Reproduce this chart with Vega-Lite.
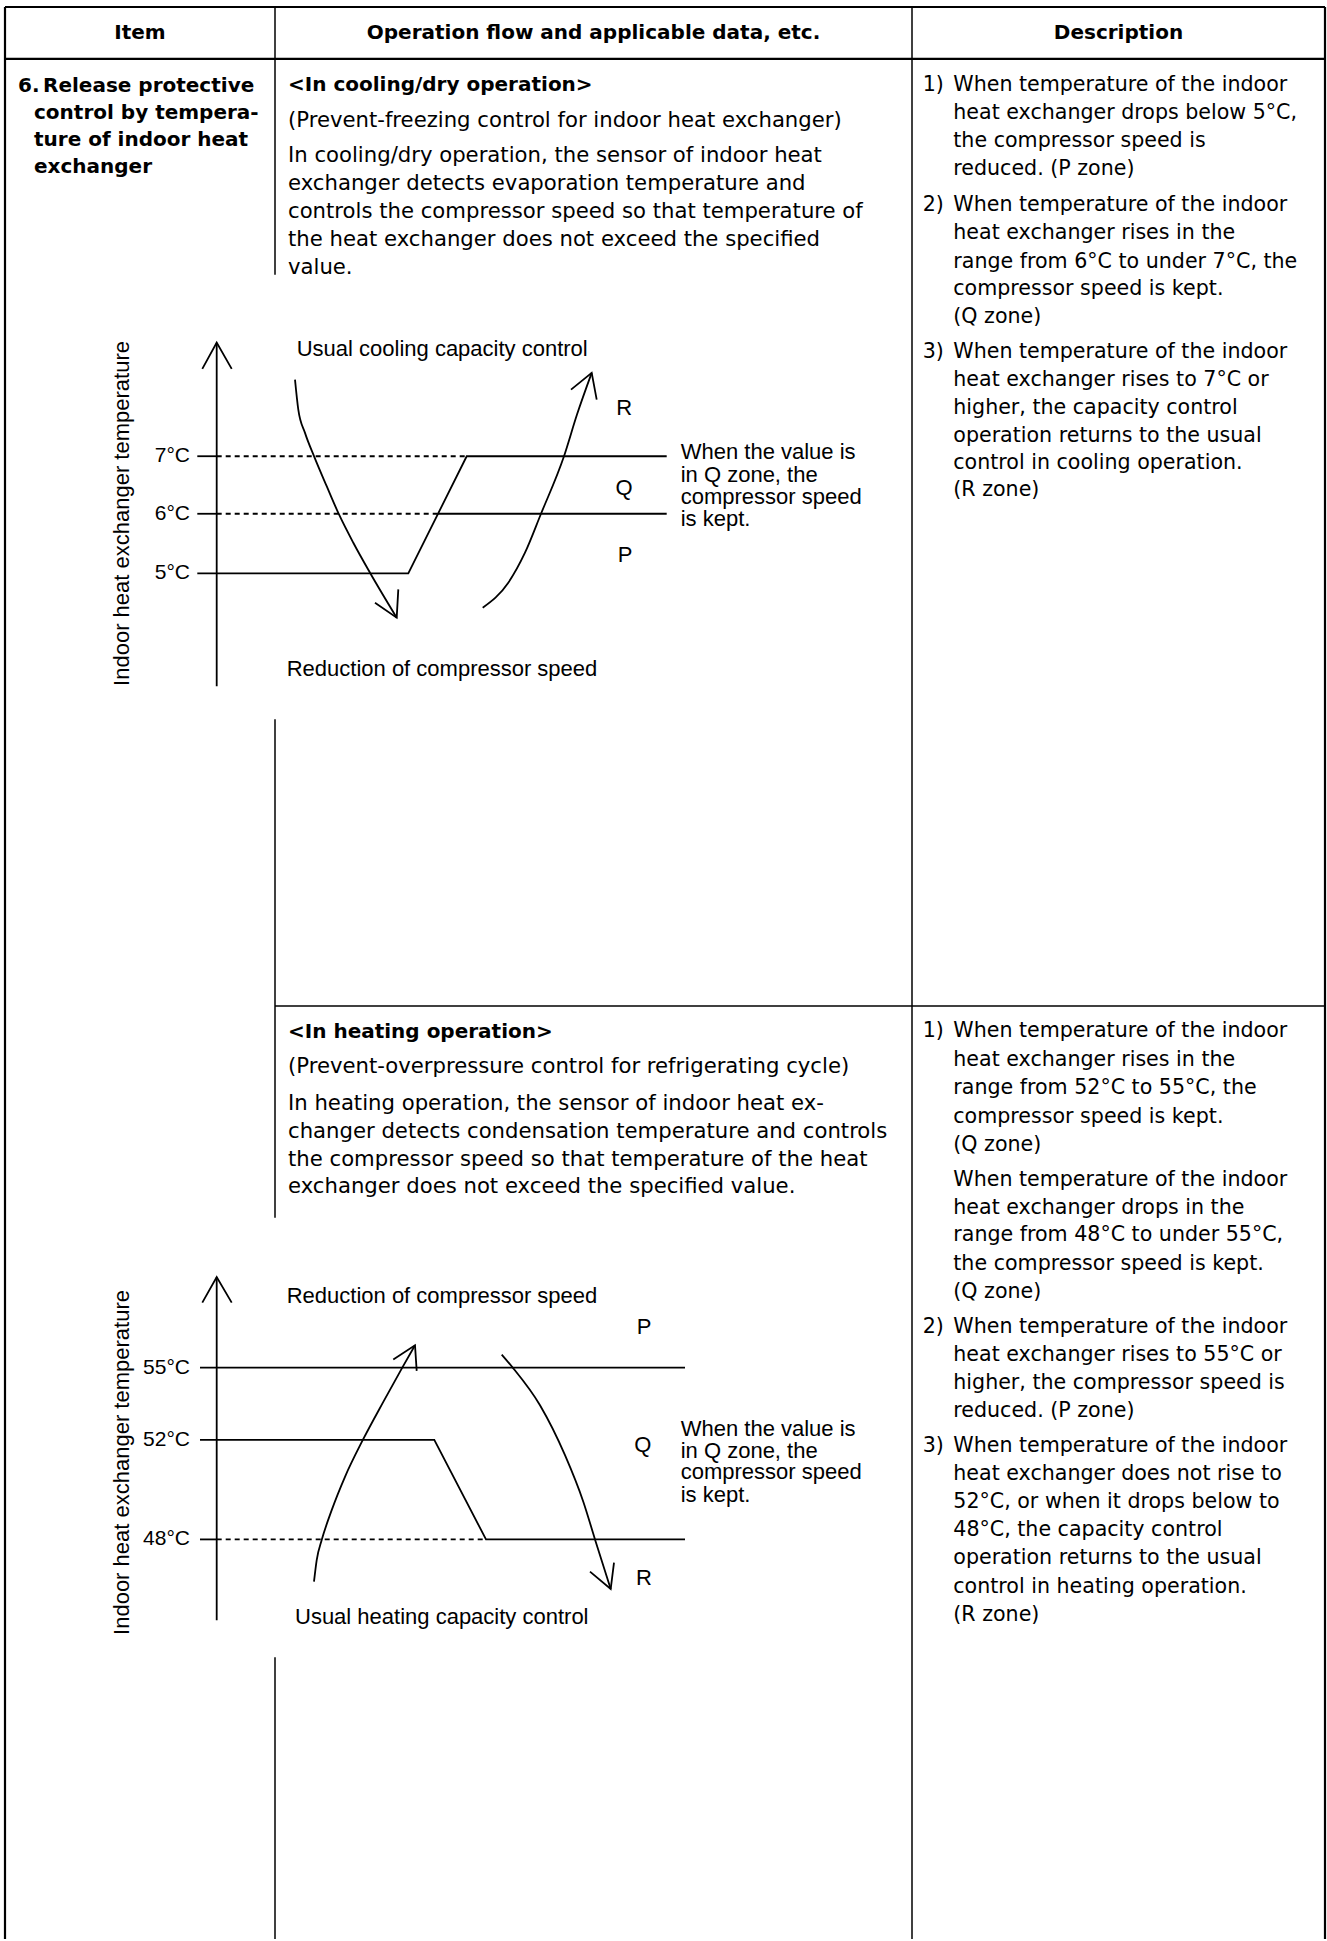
{
  "$schema": "https://vega.github.io/schema/vega-lite/v6.json",
  "width": 1327,
  "height": 1941,
  "padding": 0,
  "autosize": {"type": "fit", "contains": "padding"},
  "background": "white",
  "config": {"view": {"stroke": null}},
  "datasets": {
    "border": [
      {"x": 5, "y": 7, "x2": 5, "y2": 1941},
      {"x": 1325, "y": 7, "x2": 1325, "y2": 1941},
      {"x": 5, "y": 7, "x2": 1325, "y2": 7},
      {"x": 5, "y": 59, "x2": 1325, "y2": 59}
    ],
    "grid": [
      {"x": 912, "y": 7, "x2": 912, "y2": 1941},
      {"x": 275, "y": 7, "x2": 275, "y2": 275},
      {"x": 275, "y": 720, "x2": 275, "y2": 1219},
      {"x": 275, "y": 1659, "x2": 275, "y2": 1941},
      {"x": 275, "y": 1007, "x2": 1325, "y2": 1007}
    ],
    "dashed": [
      {"x": 216.7, "y": 456.7, "x2": 466.7, "y2": 456.7},
      {"x": 216.7, "y": 514.3, "x2": 438, "y2": 514.3},
      {"x": 216.7, "y": 1541, "x2": 486, "y2": 1541}
    ],
    "poly": [
      {"id": "c_axis", "i": 0, "x": 216.7, "y": 343}, {"id": "c_axis", "i": 1, "x": 216.7, "y": 687},
      {"id": "c_ahead", "i": 0, "x": 202.3, "y": 369.3}, {"id": "c_ahead", "i": 1, "x": 216.7, "y": 343}, {"id": "c_ahead", "i": 2, "x": 231.7, "y": 369.3},
      {"id": "c_t7", "i": 0, "x": 197.3, "y": 456.7}, {"id": "c_t7", "i": 1, "x": 216.7, "y": 456.7},
      {"id": "c_t6", "i": 0, "x": 197.3, "y": 514.3}, {"id": "c_t6", "i": 1, "x": 216.7, "y": 514.3},
      {"id": "c_l6", "i": 0, "x": 438, "y": 514.3}, {"id": "c_l6", "i": 1, "x": 666.7, "y": 514.3},
      {"id": "c_step", "i": 0, "x": 197.3, "y": 574}, {"id": "c_step", "i": 1, "x": 408.3, "y": 574}, {"id": "c_step", "i": 2, "x": 466.7, "y": 456.7}, {"id": "c_step", "i": 3, "x": 666.7, "y": 456.7},
      {"id": "c_a1h", "i": 0, "x": 375, "y": 603.3}, {"id": "c_a1h", "i": 1, "x": 396.7, "y": 618.3}, {"id": "c_a1h", "i": 2, "x": 398.3, "y": 590},
      {"id": "c_a2h", "i": 0, "x": 571, "y": 390}, {"id": "c_a2h", "i": 1, "x": 591.7, "y": 373.3}, {"id": "c_a2h", "i": 2, "x": 596.7, "y": 400},
      {"id": "h_axis", "i": 0, "x": 216.7, "y": 1278.3}, {"id": "h_axis", "i": 1, "x": 216.7, "y": 1622},
      {"id": "h_ahead", "i": 0, "x": 202.3, "y": 1304}, {"id": "h_ahead", "i": 1, "x": 216.7, "y": 1278.3}, {"id": "h_ahead", "i": 2, "x": 231.7, "y": 1304},
      {"id": "h_l55", "i": 0, "x": 200, "y": 1369}, {"id": "h_l55", "i": 1, "x": 685, "y": 1369},
      {"id": "h_step", "i": 0, "x": 200, "y": 1441.3}, {"id": "h_step", "i": 1, "x": 434.3, "y": 1441.3}, {"id": "h_step", "i": 2, "x": 486, "y": 1541}, {"id": "h_step", "i": 3, "x": 685, "y": 1541},
      {"id": "h_t48", "i": 0, "x": 200, "y": 1541}, {"id": "h_t48", "i": 1, "x": 216.7, "y": 1541},
      {"id": "h_a1h", "i": 0, "x": 393.3, "y": 1361}, {"id": "h_a1h", "i": 1, "x": 415, "y": 1346.7}, {"id": "h_a1h", "i": 2, "x": 416.7, "y": 1372.3},
      {"id": "h_a2h", "i": 0, "x": 590, "y": 1573.3}, {"id": "h_a2h", "i": 1, "x": 610.7, "y": 1590.7}, {"id": "h_a2h", "i": 2, "x": 614, "y": 1564.3}
    ],
    "curves": [
      {"id": "c1", "i": 0, "x": 295, "y": 380}, {"id": "c1", "i": 1, "x": 298.3, "y": 410}, {"id": "c1", "i": 2, "x": 305, "y": 433.3}, {"id": "c1", "i": 3, "x": 314.3, "y": 457.3}, {"id": "c1", "i": 4, "x": 326.7, "y": 486.7}, {"id": "c1", "i": 5, "x": 339, "y": 515}, {"id": "c1", "i": 6, "x": 353.3, "y": 543.3}, {"id": "c1", "i": 7, "x": 370, "y": 573.3}, {"id": "c1", "i": 8, "x": 396.7, "y": 618.3},
      {"id": "c2", "i": 0, "x": 482.7, "y": 608.3}, {"id": "c2", "i": 1, "x": 508.3, "y": 583.3}, {"id": "c2", "i": 2, "x": 525, "y": 553.3}, {"id": "c2", "i": 3, "x": 541, "y": 514.3}, {"id": "c2", "i": 4, "x": 564, "y": 456.7}, {"id": "c2", "i": 5, "x": 577, "y": 415}, {"id": "c2", "i": 6, "x": 591.7, "y": 373.3},
      {"id": "h1", "i": 0, "x": 314, "y": 1583.3}, {"id": "h1", "i": 1, "x": 316.7, "y": 1561.7}, {"id": "h1", "i": 2, "x": 321.7, "y": 1541.7}, {"id": "h1", "i": 3, "x": 331.7, "y": 1511.7}, {"id": "h1", "i": 4, "x": 345, "y": 1478.3}, {"id": "h1", "i": 5, "x": 362.7, "y": 1441.7}, {"id": "h1", "i": 6, "x": 383.3, "y": 1403.3}, {"id": "h1", "i": 7, "x": 402.7, "y": 1368.3}, {"id": "h1", "i": 8, "x": 415, "y": 1346.7},
      {"id": "h2", "i": 0, "x": 501.7, "y": 1356}, {"id": "h2", "i": 1, "x": 512.7, "y": 1369}, {"id": "h2", "i": 2, "x": 540, "y": 1406.7}, {"id": "h2", "i": 3, "x": 565, "y": 1456.7}, {"id": "h2", "i": 4, "x": 583.3, "y": 1503.3}, {"id": "h2", "i": 5, "x": 595, "y": 1541}, {"id": "h2", "i": 6, "x": 610.7, "y": 1590.7}
    ],
    "headers": [
      {"t": "Item", "x": 140, "y": 33},
      {"t": "Operation flow and applicable data, etc.", "x": 593.5, "y": 33},
      {"t": "Description", "x": 1118.5, "y": 33}
    ],
    "boldleft": [
      {"t": "6.", "x": 18, "y": 86.5},
      {"t": "Release protective", "x": 43, "y": 86.5},
      {"t": "control by tempera-", "x": 34, "y": 113.5},
      {"t": "ture of indoor heat", "x": 34, "y": 140.5},
      {"t": "exchanger", "x": 34, "y": 167},
      {"t": "<In cooling/dry operation>", "x": 288, "y": 85},
      {"t": "<In heating operation>", "x": 288, "y": 1032.7}
    ],
    "col2": [
      {"t": "(Prevent-freezing control for indoor heat exchanger)", "x": 288, "y": 121},
      {"t": "In cooling/dry operation, the sensor of indoor heat", "x": 288, "y": 156},
      {"t": "exchanger detects evaporation temperature and", "x": 288, "y": 184},
      {"t": "controls the compressor speed so that temperature of", "x": 288, "y": 212},
      {"t": "the heat exchanger does not exceed the specified", "x": 288, "y": 240},
      {"t": "value.", "x": 288, "y": 268},
      {"t": "(Prevent-overpressure control for refrigerating cycle)", "x": 288, "y": 1068.3},
      {"t": "In heating operation, the sensor of indoor heat ex-", "x": 288, "y": 1105},
      {"t": "changer detects condensation temperature and controls", "x": 288, "y": 1132.7},
      {"t": "the compressor speed so that temperature of the heat", "x": 288, "y": 1160.7},
      {"t": "exchanger does not exceed the specified value.", "x": 288, "y": 1188.3}
    ],
    "col3": [
      {"t": "1)", "x": 922.7, "y": 85},
      {"t": "When temperature of the indoor", "x": 953.3, "y": 85},
      {"t": "heat exchanger drops below 5°C,", "x": 953.3, "y": 113},
      {"t": "the compressor speed is", "x": 953.3, "y": 141},
      {"t": "reduced. (P zone)", "x": 953.3, "y": 169},
      {"t": "2)", "x": 922.7, "y": 205},
      {"t": "When temperature of the indoor", "x": 953.3, "y": 205},
      {"t": "heat exchanger rises in the", "x": 953.3, "y": 233},
      {"t": "range from 6°C to under 7°C, the", "x": 953.3, "y": 262},
      {"t": "compressor speed is kept.", "x": 953.3, "y": 289},
      {"t": "(Q zone)", "x": 953.3, "y": 317},
      {"t": "3)", "x": 922.7, "y": 352},
      {"t": "When temperature of the indoor", "x": 953.3, "y": 352},
      {"t": "heat exchanger rises to 7°C or", "x": 953.3, "y": 380},
      {"t": "higher, the capacity control", "x": 953.3, "y": 408},
      {"t": "operation returns to the usual", "x": 953.3, "y": 436},
      {"t": "control in cooling operation.", "x": 953.3, "y": 463},
      {"t": "(R zone)", "x": 953.3, "y": 491},
      {"t": "1)", "x": 922.7, "y": 1032.4},
      {"t": "When temperature of the indoor", "x": 953.3, "y": 1032.4},
      {"t": "heat exchanger rises in the", "x": 953.3, "y": 1060.9},
      {"t": "range from 52°C to 55°C, the", "x": 953.3, "y": 1089.3},
      {"t": "compressor speed is kept.", "x": 953.3, "y": 1117.8},
      {"t": "(Q zone)", "x": 953.3, "y": 1146.3},
      {"t": "When temperature of the indoor", "x": 953.3, "y": 1181},
      {"t": "heat exchanger drops in the", "x": 953.3, "y": 1209.4},
      {"t": "range from 48°C to under 55°C,", "x": 953.3, "y": 1236.7},
      {"t": "the compressor speed is kept.", "x": 953.3, "y": 1265.1},
      {"t": "(Q zone)", "x": 953.3, "y": 1293.6},
      {"t": "2)", "x": 922.7, "y": 1328.3},
      {"t": "When temperature of the indoor", "x": 953.3, "y": 1328.3},
      {"t": "heat exchanger rises to 55°C or", "x": 953.3, "y": 1356.7},
      {"t": "higher, the compressor speed is", "x": 953.3, "y": 1384},
      {"t": "reduced. (P zone)", "x": 953.3, "y": 1412.4},
      {"t": "3)", "x": 922.7, "y": 1447.1},
      {"t": "When temperature of the indoor", "x": 953.3, "y": 1447.1},
      {"t": "heat exchanger does not rise to", "x": 953.3, "y": 1475.5},
      {"t": "52°C, or when it drops below to", "x": 953.3, "y": 1504},
      {"t": "48°C, the capacity control", "x": 953.3, "y": 1531.2},
      {"t": "operation returns to the usual", "x": 953.3, "y": 1559.7},
      {"t": "control in heating operation.", "x": 953.3, "y": 1588.2},
      {"t": "(R zone)", "x": 953.3, "y": 1616.7}
    ],
    "gleft": [
      {"t": "Usual cooling capacity control", "x": 296.7, "y": 349.3},
      {"t": "Reduction of compressor speed", "x": 286.7, "y": 670},
      {"t": "When the value is", "x": 680.7, "y": 452.7},
      {"t": "in Q zone, the", "x": 680.7, "y": 475},
      {"t": "compressor speed", "x": 680.7, "y": 497.3},
      {"t": "is kept.", "x": 680.7, "y": 519.3},
      {"t": "Reduction of compressor speed", "x": 286.7, "y": 1297.7},
      {"t": "Usual heating capacity control", "x": 295, "y": 1619},
      {"t": "When the value is", "x": 680.7, "y": 1430},
      {"t": "in Q zone, the", "x": 680.7, "y": 1452.3},
      {"t": "compressor speed", "x": 680.7, "y": 1474},
      {"t": "is kept.", "x": 680.7, "y": 1496.7}
    ],
    "zones": [
      {"t": "R", "x": 624.3, "y": 408.3},
      {"t": "Q", "x": 624, "y": 488.3},
      {"t": "P", "x": 625, "y": 556},
      {"t": "P", "x": 644, "y": 1328.3},
      {"t": "Q", "x": 642.7, "y": 1446},
      {"t": "R", "x": 644, "y": 1580}
    ],
    "ticks": [
      {"t": "7°C", "x": 190, "y": 456.7},
      {"t": "6°C", "x": 190, "y": 514.3},
      {"t": "5°C", "x": 190, "y": 574},
      {"t": "55°C", "x": 190, "y": 1369},
      {"t": "52°C", "x": 190, "y": 1441.3},
      {"t": "48°C", "x": 190, "y": 1541}
    ],
    "ytitles": [
      {"t": "Indoor heat exchanger temperature", "x": 121.7, "y": 514},
      {"t": "Indoor heat exchanger temperature", "x": 121.7, "y": 1464}
    ]
  },
  "encoding": {
    "x": {"field": "x", "type": "quantitative", "scale": {"domain": [0, 1327], "nice": false, "zero": false}, "axis": null},
    "y": {"field": "y", "type": "quantitative", "scale": {"domain": [0, 1941], "nice": false, "zero": false, "reverse": true}, "axis": null}
  },
  "layer": [
    {
      "data": {"name": "border"},
      "mark": {"type": "rule", "stroke": "black", "strokeWidth": 2.2},
      "encoding": {"x2": {"field": "x2"}, "y2": {"field": "y2"}}
    },
    {
      "data": {"name": "grid"},
      "mark": {"type": "rule", "stroke": "black", "strokeWidth": 1.5},
      "encoding": {"x2": {"field": "x2"}, "y2": {"field": "y2"}}
    },
    {
      "data": {"name": "dashed"},
      "mark": {"type": "rule", "stroke": "black", "strokeWidth": 1.8, "strokeDash": [5, 4]},
      "encoding": {"x2": {"field": "x2"}, "y2": {"field": "y2"}}
    },
    {
      "data": {"name": "poly"},
      "mark": {"type": "line", "stroke": "black", "strokeWidth": 1.8, "interpolate": "linear", "strokeCap": "butt"},
      "encoding": {"detail": {"field": "id"}, "order": {"field": "i", "type": "quantitative"}}
    },
    {
      "data": {"name": "curves"},
      "mark": {"type": "line", "stroke": "black", "strokeWidth": 1.8, "interpolate": "monotone"},
      "encoding": {"detail": {"field": "id"}, "order": {"field": "i", "type": "quantitative"}}
    },
    {
      "data": {"name": "headers"},
      "mark": {"type": "text", "font": "DejaVu Sans", "fontWeight": "bold", "fontSize": 20, "align": "center", "baseline": "middle", "color": "black"},
      "encoding": {"text": {"field": "t"}}
    },
    {
      "data": {"name": "boldleft"},
      "mark": {"type": "text", "font": "DejaVu Sans", "fontWeight": "bold", "fontSize": 20, "align": "left", "baseline": "middle", "color": "black"},
      "encoding": {"text": {"field": "t"}}
    },
    {
      "data": {"name": "col2"},
      "mark": {"type": "text", "font": "DejaVu Sans", "fontSize": 21.2, "align": "left", "baseline": "middle", "color": "black"},
      "encoding": {"text": {"field": "t"}}
    },
    {
      "data": {"name": "col3"},
      "mark": {"type": "text", "font": "DejaVu Sans", "fontSize": 20.6, "align": "left", "baseline": "middle", "color": "black"},
      "encoding": {"text": {"field": "t"}}
    },
    {
      "data": {"name": "gleft"},
      "mark": {"type": "text", "font": "Liberation Sans", "fontSize": 22, "align": "left", "baseline": "middle", "color": "black"},
      "encoding": {"text": {"field": "t"}}
    },
    {
      "data": {"name": "zones"},
      "mark": {"type": "text", "font": "Liberation Sans", "fontSize": 22, "align": "center", "baseline": "middle", "color": "black"},
      "encoding": {"text": {"field": "t"}}
    },
    {
      "data": {"name": "ticks"},
      "mark": {"type": "text", "font": "Liberation Sans", "fontSize": 21, "align": "right", "baseline": "middle", "color": "black"},
      "encoding": {"text": {"field": "t"}}
    },
    {
      "data": {"name": "ytitles"},
      "mark": {"type": "text", "font": "Liberation Sans", "fontSize": 22, "align": "center", "baseline": "middle", "angle": 270, "color": "black"},
      "encoding": {"text": {"field": "t"}}
    }
  ]
}
